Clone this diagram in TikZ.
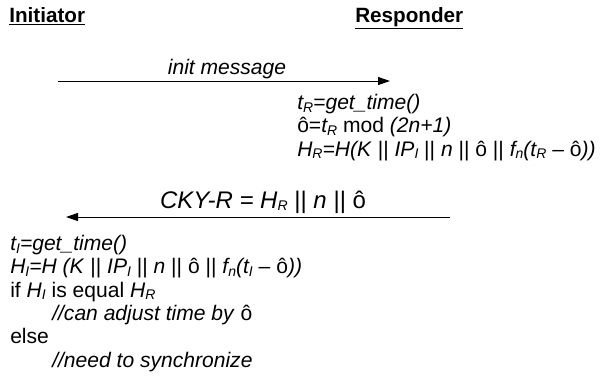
\documentclass[tikz,border=0pt]{standalone}
\usepackage{fontspec}
\setmainfont{Liberation Sans}
\usetikzlibrary{arrows.meta}
\newcommand{\lo}[1]{\raisebox{-0.25ex}{\fontsize{10.5}{10.5}\selectfont\itshape #1}}
\newcommand{\oh}{\textup{ô}}
\tikzset{
  txt/.style={inner sep=0pt,font=\fontsize{15.8}{17.5}\selectfont,align=left},
  head/.style={inner sep=0pt,font=\fontsize{15.5}{17}\selectfont\bfseries},
  msg/.style={-{Triangle[length=9pt,width=6pt]},line width=0.75pt}
}
\begin{document}
\begin{tikzpicture}[x=0.75pt,y=-0.75pt]
\useasboundingbox (0,0) rectangle (603,376);
\node[head,anchor=base west] (ini) at (9,22) {\underline{Initiator}};
\node[head,anchor=base west] (res) at (355,22) {\underline{Responder}};
\coordinate (a1) at (58,81);
\coordinate (b1) at (390,81);
\draw[msg] (a1) -- (b1);
\node[txt,anchor=base] (m1) at (227,74) {\itshape init message};
% base of a multi-line node = its last line
\node[txt,anchor=base west] (rcalc) at (297,156) {%
  \textit{t\lo{R}=get\_time()}\\
  \oh=\textit{t\lo{R}} mod \textit{(2n+1)}\\
  \textit{H\lo{R}=H(K} || \textit{IP\lo{I}} || \textit{n} || \oh{} || \textit{f\lo{n}(t\lo{R} -- }\oh\textit{))}};
\coordinate (b2) at (450,217);
\coordinate (a2) at (66,217);
\draw[msg] (b2) -- (a2);
\node[txt,font=\fontsize{18}{20}\selectfont,anchor=base] (m2) at (263,208)
  {\textit{CKY-R = H{\fontsize{12}{12}\selectfont\lo{R}}} || \textit{n} || \oh};
\node[txt,anchor=base west] (icalc) at (10,367) {%
  \textit{t\lo{I}=get\_time()}\\
  \textit{H\lo{I}=H (K} || \textit{IP\lo{I}} || \textit{n} || \oh{} || \textit{f\lo{n}(t\lo{I} -- }\oh\textit{))}\\
  if \textit{H\lo{I}} is equal \textit{H\lo{R}}\\
  \hspace*{31.5pt}\textit{//can adjust time by }\oh\\
  else\\
  \hspace*{31.5pt}\textit{//need to synchronize}};
\end{tikzpicture}
\end{document}
